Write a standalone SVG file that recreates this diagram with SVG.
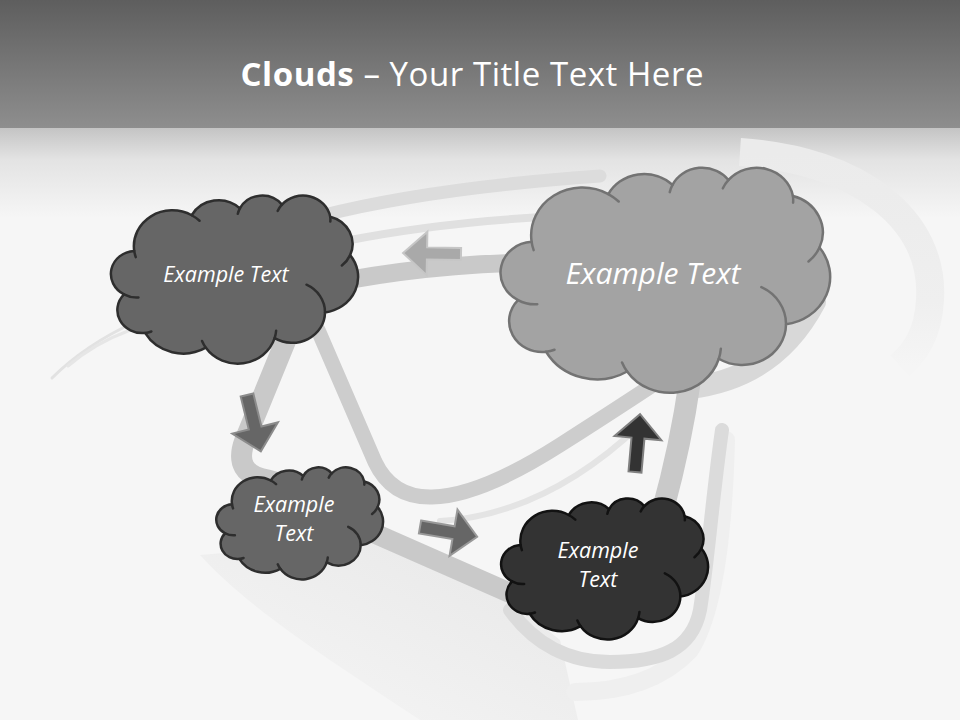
<svg xmlns="http://www.w3.org/2000/svg" xmlns:xlink="http://www.w3.org/1999/xlink" width="960" height="720" viewBox="0 0 960 720">
  <style>
    .band { fill: none; stroke-linecap: round; stroke-linejoin: round; }
    .cloud { stroke-width: 2.5; stroke-linejoin: round; }
    .ears { fill: none; stroke-width: 2.5; stroke-linecap: round; }
    .c-light { fill: #a3a3a3; stroke: #737373; }
    .c-mid { fill: #666666; stroke: #2e2e2e; }
    .c-dark { fill: #333333; stroke: #121212; }
    .e-light { stroke: #737373; }
    .e-mid { stroke: #2e2e2e; }
    .e-dark { stroke: #121212; }
    .lbl { font-family: "Open Sans", "Liberation Sans", sans-serif; font-style: italic; fill: #ffffff; text-anchor: middle; }
    .title { font-family: "Open Sans", "Liberation Sans", sans-serif; fill: #ffffff; text-anchor: middle; font-size: 33px; }
    .arrow { stroke-width: 2; stroke-linejoin: miter; }
  </style>
  <defs>
    <linearGradient id="topGrad" x1="0" y1="0" x2="0" y2="1">
      <stop offset="0" stop-color="#5e5e5e"/>
      <stop offset="1" stop-color="#8e8e8e"/>
    </linearGradient>
    <linearGradient id="fadeGrad" x1="0" y1="0" x2="0" y2="1">
      <stop offset="0" stop-color="#c4c4c4"/>
      <stop offset="0.35" stop-color="#e3e3e3"/>
      <stop offset="1" stop-color="#f6f6f6"/>
    </linearGradient>
    <linearGradient id="shadeGrad" x1="1" y1="0" x2="0" y2="1">
      <stop offset="0" stop-color="#e7e7e7"/>
      <stop offset="0.6" stop-color="#f0f0f0"/>
      <stop offset="1" stop-color="#f6f6f6"/>
    </linearGradient>
    <linearGradient id="arcGrad" x1="0" y1="0" x2="0" y2="1">
      <stop offset="0" stop-color="#ebebeb"/>
      <stop offset="0.7" stop-color="#efefef"/>
      <stop offset="1" stop-color="#f5f5f5"/>
    </linearGradient>
    <path id="cloudBody" vector-effect="non-scaling-stroke" d="M 9.03 33.26 A 15.63 21.27 0 0 1 32.42 12.04 A 12.34 16.82 0 0 1 51.98 7.95 A 10.10 13.76 0 0 1 69.06 5.75 A 11.24 15.27 0 0 1 88.70 12.91 A 12.34 16.84 0 0 1 96.80 35.79 A 15.68 21.34 0 0 1 86.59 69.92 A 13.39 18.21 0 0 1 66.10 85.22 A 15.63 21.33 0 0 1 38.15 90.89 A 17.87 24.41 0 0 1 13.44 82.11 A 10.09 13.70 0 0 1 4.89 59.15 A 10.06 13.76 0 0 1 9.03 33.26 Z"/>
    <path id="cloudEars" vector-effect="non-scaling-stroke" d="M 10.76 61.00 A 10.06 13.76 0 0 1 4.89 59.15 M 16.00 81.23 A 10.09 13.70 0 0 1 13.44 82.11 M 38.15 90.89 A 15.63 21.33 0 0 1 36.60 86.86 M 66.72 80.80 A 15.63 21.33 0 0 1 66.10 85.22 M 79.06 53.40 A 13.39 18.21 0 0 1 86.59 69.92 M 96.80 35.79 A 12.34 16.84 0 0 1 93.45 41.99 M 88.70 12.91 A 11.24 15.27 0 0 1 88.75 15.84 M 67.34 9.48 A 11.24 15.27 0 0 1 69.06 5.75 M 51.15 11.16 A 10.10 13.76 0 0 1 51.98 7.95 M 32.42 12.04 A 15.63 21.27 0 0 1 35.57 15.35 M 9.65 36.97 A 15.63 21.27 0 0 1 9.03 33.26"/>
    <polygon id="blockArrow" points="0,-6.5 34,-6.5 34,-23.5 58,0 34,23.5 34,6.5 0,6.5"/>
  </defs>

  <!-- background -->
  <g id="background">
    <rect x="0" y="0" width="960" height="720" fill="#f6f6f6"/>
    <rect x="0" y="0" width="960" height="128" fill="url(#topGrad)"/>
    <rect x="0" y="128" width="960" height="90" fill="url(#fadeGrad)"/>
    <path d="M 200 555 L 375 540 L 510 600 L 560 640 L 578 720 L 420 720 C 330 660 250 610 200 555 Z" fill="url(#shadeGrad)"/>
    <path fill="none" d="M 740 152 C 860 160 935 220 930 300 C 928 335 915 352 900 366" stroke="url(#arcGrad)" stroke-width="28" stroke-linecap="butt"/>
    <path class="band" d="M 52 378 Q 85 345 135 322" stroke="#e2e2e2" stroke-width="3"/>
    <path class="band" d="M 68 366 Q 95 343 128 331" stroke="#e6e6e6" stroke-width="3"/>
    <path class="band" d="M 320 216 Q 430 188 600 176" stroke="#dcdcdc" stroke-width="13"/>
    <path class="band" d="M 345 241 Q 440 222 560 216" stroke="#e0e0e0" stroke-width="8"/>
    <path class="band" d="M 726 440 Q 722 600 690 650 Q 650 692 575 692" stroke="#efefef" stroke-width="18"/>
    <path class="band" d="M 690 388 Q 775 378 815 302" stroke="#d8d8d8" stroke-width="22"/>
  </g>

  <!-- connectors -->
  <g id="connectors">
    <path class="band" d="M 440 521 Q 545 515 640 425" stroke="#e4e4e4" stroke-width="6"/>
    <path class="band" d="M 722 430 C 712 500 708 560 700 610 C 692 650 660 662 610 662 C 570 662 535 645 510 610" stroke="#dbdbdb" stroke-width="14"/>
    <path class="band" d="M 300 290 Q 420 262 560 262" stroke="#c9c9c9" stroke-width="18"/>
    <path class="band" d="M 290 330 L 245 440 Q 232 474 268 480 L 320 495" stroke="#c9c9c9" stroke-width="21"/>
    <path class="band" d="M 360 527 L 560 615" stroke="#c9c9c9" stroke-width="20"/>
    <path class="band" d="M 690 380 Q 680 450 660 520" stroke="#c9c9c9" stroke-width="22"/>
    <path class="band" d="M 318 330 L 375 462 Q 392 498 432 497 Q 480 496 560 445 T 690 360" stroke="#cdcdcd" stroke-width="15"/>

    <use id="arrow-left" href="#blockArrow" class="arrow" fill="#a9a9a9" stroke="#c6c6c6" transform="translate(461 254) rotate(181) scale(1 0.92)"/>
    <use id="arrow-down" href="#blockArrow" class="arrow" fill="#666666" stroke="#8c8c8c" transform="translate(247 395) rotate(76.2)"/>
    <use id="arrow-right" href="#blockArrow" class="arrow" fill="#666666" stroke="#999999" transform="translate(420 527) rotate(9.7)"/>
    <use id="arrow-up" href="#blockArrow" class="arrow" fill="#333333" stroke="#808080" transform="translate(635 472) rotate(-85)"/>
  </g>

  <!-- nodes -->
  <g id="node-top-left">
    <g transform="translate(112 195) scale(2.46 1.68)">
      <use href="#cloudBody" class="cloud c-mid"/>
      <use href="#cloudEars" class="ears e-mid"/>
    </g>
    <text class="lbl" x="226" y="282" font-size="21.5">Example Text</text>
  </g>

  <g id="node-big">
    <g transform="translate(502 167) scale(3.28 2.25)">
      <use href="#cloudBody" class="cloud c-light"/>
      <use href="#cloudEars" class="ears e-light"/>
    </g>
    <text class="lbl" x="653" y="284" font-size="30">Example Text</text>
  </g>

  <g id="node-small">
    <g transform="translate(217 467) scale(1.66 1.12)">
      <use href="#cloudBody" class="cloud c-mid"/>
      <use href="#cloudEars" class="ears e-mid"/>
    </g>
    <text class="lbl" x="294" y="512" font-size="21.5">Example</text>
    <text class="lbl" x="294" y="541" font-size="21.5">Text</text>
  </g>

  <g id="node-dark">
    <g transform="translate(502 498) scale(2.06 1.41)">
      <use href="#cloudBody" class="cloud c-dark"/>
      <use href="#cloudEars" class="ears e-dark"/>
    </g>
    <text class="lbl" x="598" y="558" font-size="21.5">Example</text>
    <text class="lbl" x="598" y="587" font-size="21.5">Text</text>
  </g>

  <g id="title">
    <text class="title" x="472" y="86" textLength="463" lengthAdjust="spacing"><tspan font-weight="bold">Clouds</tspan> – Your Title Text Here</text>
  </g>
</svg>
